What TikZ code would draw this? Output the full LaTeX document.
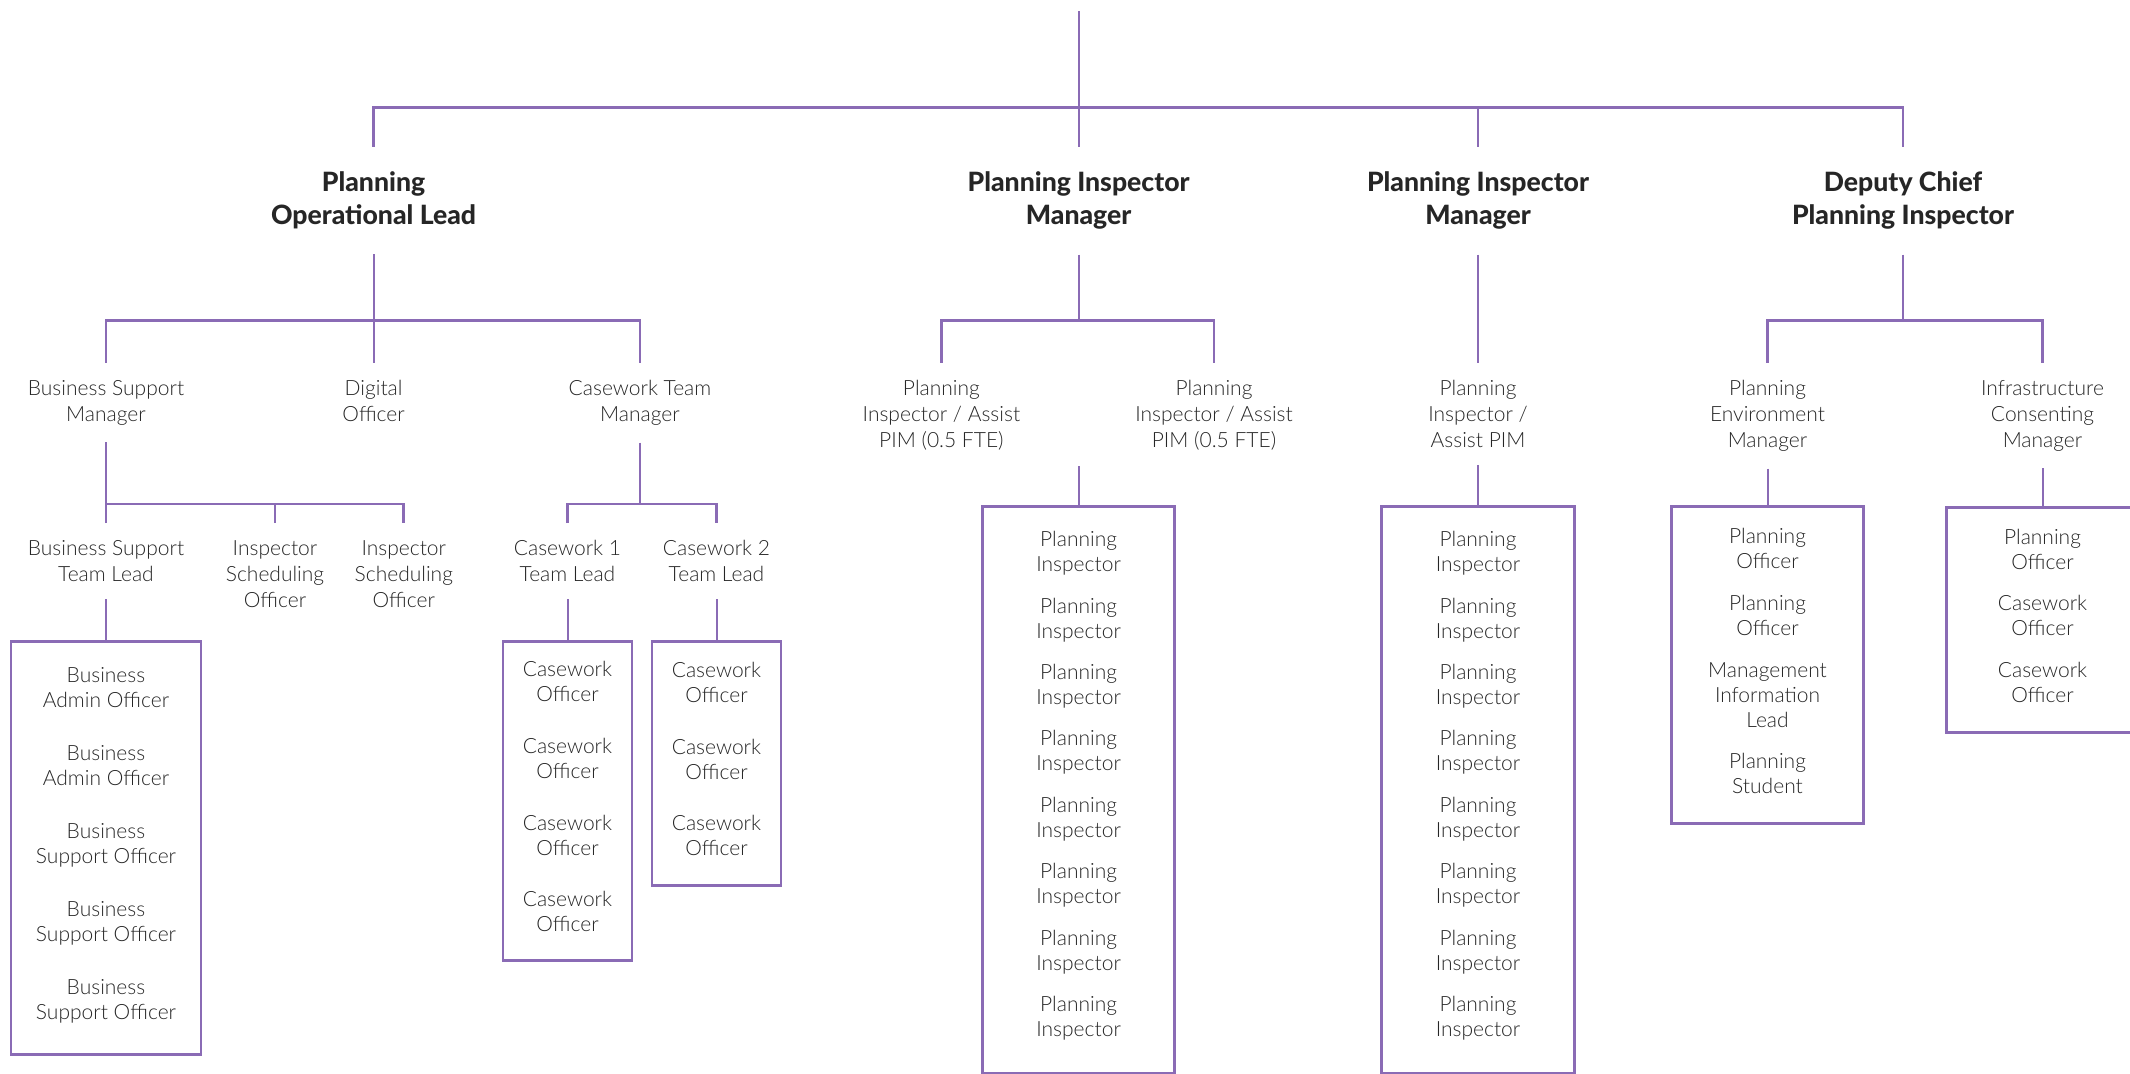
\documentclass[tikz,border=0pt]{standalone}
\usepackage{fontspec}
\setmainfont{Lato}[UprightFont=* Light,BoldFont=* Heavy]
\usepackage{tikz}
\definecolor{pinsline}{HTML}{8A6BB5}
\definecolor{pinstext}{HTML}{262626}

\begin{document}
\begin{tikzpicture}[x=0.5pt,y=-0.5pt,line join=miter,
    link/.style={color=pinsline,line width=1pt},
    bar/.style={color=pinsline,line width=1.4pt},
    head/.style={anchor=north,align=center,inner xsep=0pt,inner ysep=12.5pt,text=pinstext,font=\bfseries\fontsize{13.3}{16.2}\selectfont},
    role/.style={anchor=north,align=center,inner xsep=0pt,inner ysep=8.5pt,text=pinstext,font=\fontsize{10.5}{13}\selectfont},
    team/.style={anchor=north,draw=pinsline,line width=1.4pt,align=center,inner sep=0pt,text depth=4pt,text=pinstext,font=\fontsize{10.5}{12.5}\selectfont}]
        \useasboundingbox (0,0) rectangle (2130,1073);
        \clip (0,0) rectangle (2130,1073);
        \coordinate (top) at (1078.6,11);
        \coordinate (lvl1) at (0,107.3);
        \coordinate (lvl2) at (0,320.6);
        \coordinate (lvl3) at (0,504);
        \coordinate (pimgap) at (1078.6,466);

        \node[head] (pol) at (373.6,146.7) {Planning\\Operational Lead};
        \node[head] (pim1) at (1078.6,146.7) {Planning Inspector\\Manager};
        \node[head] (pim2) at (1478,146.7) {Planning Inspector\\Manager};
        \node[head] (dcpi) at (1903,146.7) {Deputy Chief\\Planning Inspector};

        \node[role] (bsm) at (106,362.7) {Business Support\\Manager};
        \node[role] (dig) at (373.6,362.7) {Digital\\Officer};
        \node[role] (cwm) at (640,362.7) {Casework Team\\Manager};
        \node[role] (pia1) at (941.4,362.7) {Planning\\Inspector / Assist\\PIM (0.5 FTE)};
        \node[role] (pia2) at (1214,362.7) {Planning\\Inspector / Assist\\PIM (0.5 FTE)};
        \node[role] (pia3) at (1478,362.7) {Planning\\Inspector /\\Assist PIM};
        \node[role] (pem) at (1767.5,362.7) {Planning\\Environment\\Manager};
        \node[role] (icm) at (2042.5,362.7) {Infrastructure\\Consenting\\Manager};

        \node[role] (bstl) at (106,523) {Business Support\\Team Lead};
        \node[role] (iso1) at (275,523) {Inspector\\Scheduling\\Officer};
        \node[role] (iso2) at (403.8,523) {Inspector\\Scheduling\\Officer};
        \node[role] (cwl1) at (567.5,523) {Casework 1\\Team Lead};
        \node[role] (cwl2) at (716.5,523) {Casework 2\\Team Lead};

        \node[team,minimum width=95pt,minimum height=206.5pt] (bbox) at (106,639.8) {Business\\Admin Officer\\[14pt]Business\\Admin Officer\\[14pt]Business\\Support Officer\\[14pt]Business\\Support Officer\\[14pt]Business\\Support Officer};
        \node[team,minimum width=64.5pt,minimum height=159.5pt] (cbox1) at (567.5,639.8) {Casework\\Officer\\[13.3pt]Casework\\Officer\\[13.3pt]Casework\\Officer\\[13.3pt]Casework\\Officer};
        \node[team,minimum width=64.5pt,minimum height=122pt] (cbox2) at (716.5,639.8) {Casework\\Officer\\[13.3pt]Casework\\Officer\\[13.3pt]Casework\\Officer};
        \node[team,minimum width=95.8pt,minimum height=283.3pt,text depth=6pt] (pbox1) at (1078.6,505.3) {Planning\\Inspector\\[8.2pt]Planning\\Inspector\\[8.2pt]Planning\\Inspector\\[8.2pt]Planning\\Inspector\\[8.2pt]Planning\\Inspector\\[8.2pt]Planning\\Inspector\\[8.2pt]Planning\\Inspector\\[8.2pt]Planning\\Inspector};
        \node[team,minimum width=96.5pt,minimum height=283.3pt,text depth=6pt] (pbox2) at (1478,505.3) {Planning\\Inspector\\[8.2pt]Planning\\Inspector\\[8.2pt]Planning\\Inspector\\[8.2pt]Planning\\Inspector\\[8.2pt]Planning\\Inspector\\[8.2pt]Planning\\Inspector\\[8.2pt]Planning\\Inspector\\[8.2pt]Planning\\Inspector};
        \node[team,minimum width=95.8pt,minimum height=158.3pt] (ebox) at (1767.5,505.3) {Planning\\Officer\\[8.4pt]Planning\\Officer\\[8.4pt]Management\\Information\\Lead\\[8.4pt]Planning\\Student};
        \node[team,minimum width=96pt,minimum height=112.4pt] (ibox) at (2042.5,506) {Planning\\Officer\\[8.4pt]Casework\\Officer\\[8.4pt]Casework\\Officer};

        \draw[link] (top) -- (pim1.north);
        \draw[bar] (pol.north) |- (lvl1 -| dcpi.north) -- (dcpi.north);
        \draw[link] (pim2.north) -- (pim2.north |- lvl1);

        \draw[bar] (bsm.north) |- (lvl2 -| cwm.north) -- (cwm.north);
        \draw[link] (pol.south) -- (dig.north);
        \draw[bar] (pia1.north) |- (lvl2 -| pia2.north) -- (pia2.north);
        \draw[link] (pim1.south) -- (pim1.south |- lvl2);
        \draw[link] (pim2.south) -- (pia3.north);
        \draw[bar] (pem.north) |- (lvl2 -| icm.north) -- (icm.north);
        \draw[link] (dcpi.south) -- (dcpi.south |- lvl2);

        \draw[bar] (bstl.north) |- (lvl3 -| iso2.north) -- (iso2.north);
        \draw[link] (bsm.south) -- (bstl.north);
        \draw[link] (iso1.north) -- (iso1.north |- lvl3);
        \draw[bar] (cwl1.north) |- (lvl3 -| cwl2.north) -- (cwl2.north);
        \draw[link] (cwm.south) -- (cwm.south |- lvl3);

        \draw[link] (bstl.south) -- (bbox.north);
        \draw[link] (cwl1.south) -- (cbox1.north);
        \draw[link] (cwl2.south) -- (cbox2.north);
        \draw[link] (pimgap) -- (pbox1.north);
        \draw[link] (pia3.south) -- (pbox2.north);
        \draw[link] (pem.south) -- (ebox.north);
        \draw[link] (icm.south) -- (ibox.north);
\end{tikzpicture}
\end{document}
